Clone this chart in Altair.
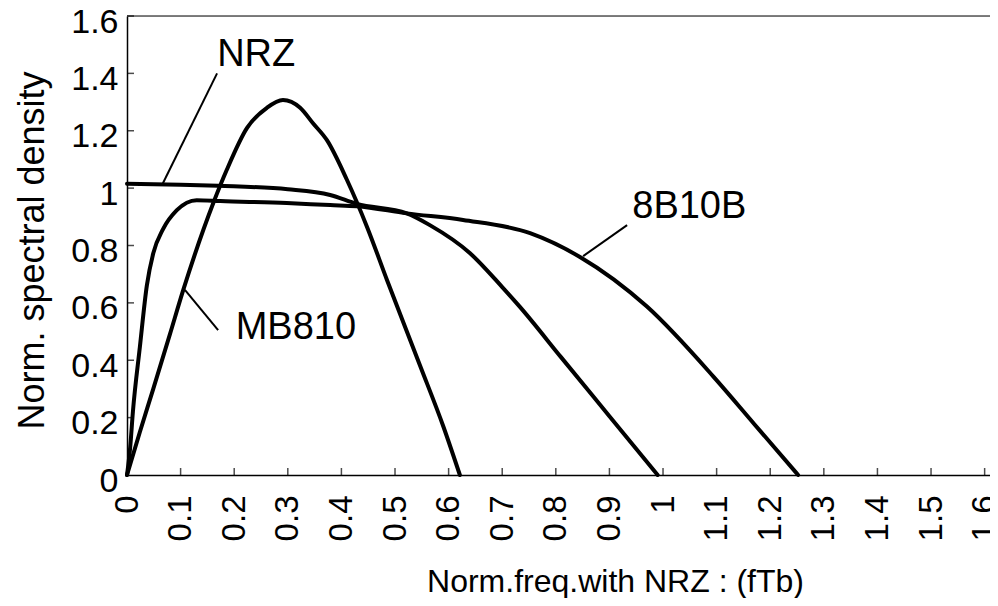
import altair as alt
import pandas as pd

# ---- data ----
nrz_f = [0, 0.10, 0.17, 0.30, 0.379, 0.429, 0.522, 0.565, 0.64, 0.70, 0.733, 0.81, 0.90, 0.99]
nrz_p = [1.015, 1.012, 1.008, 0.996, 0.976, 0.945, 0.912, 0.871, 0.773, 0.655, 0.586, 0.41, 0.205, 0.0]

b8_f = [0, 0.006, 0.011, 0.024, 0.037, 0.049, 0.067, 0.093, 0.13, 0.174, 0.298, 0.379, 0.429,
        0.522, 0.627, 0.752, 0.845, 0.97, 1.094, 1.17, 1.252]
b8_p = [0, 0.098, 0.22, 0.446, 0.66, 0.773, 0.856, 0.923, 0.958, 0.955, 0.948, 0.941, 0.937,
        0.912, 0.889, 0.843, 0.76, 0.587, 0.343, 0.178, 0.0]

mb_f = [0, 0.024, 0.049, 0.08, 0.105, 0.161, 0.186, 0.224, 0.261, 0.291, 0.323, 0.347, 0.373,
        0.41, 0.448, 0.485, 0.547, 0.59, 0.621]
mb_p = [0, 0.15, 0.30, 0.49, 0.645, 0.948, 1.063, 1.21, 1.28, 1.307, 1.28, 1.226, 1.167,
        1.03, 0.864, 0.68, 0.38, 0.17, 0.0]

label_names = ["NRZ", "MB810", "8B10B"]
label_f = [0.241, 0.315, 1.049]
label_p = [1.463, 0.514, 0.934]
leader_f1 = [0.168, 0.170, 0.933]
leader_p1 = [1.40, 0.505, 0.871]
leader_f2 = [0.067, 0.108, 0.851]
leader_p2 = [1.017, 0.645, 0.763]

x_ticks = [round(0.1 * i, 1) for i in range(0, 17)]
y_ticks = [round(0.2 * i, 1) for i in range(0, 9)]

FONT = "Liberation Sans"
W, H = 863, 459
XMAX = 1.61

curves = pd.concat([
    pd.DataFrame({"f": nrz_f, "p": nrz_p, "s": "NRZ"}),
    pd.DataFrame({"f": b8_f, "p": b8_p, "s": "8B10B"}),
    pd.DataFrame({"f": mb_f, "p": mb_p, "s": "MB810"}),
])
labels = pd.DataFrame({"name": label_names, "f": label_f, "p": label_p})
leaders = pd.DataFrame({"f1": leader_f1, "p1": leader_p1, "f2": leader_f2, "p2": leader_p2})
xt = pd.DataFrame({"f": [v for v in x_ticks if v > 0]})
yt = pd.DataFrame({"p": [v for v in y_ticks if v > 0]})

xscale = alt.Scale(domain=[0, XMAX], nice=False, zero=False)
yscale = alt.Scale(domain=[0, 1.6], nice=False)

xaxis = alt.Axis(
    values=x_ticks, format="~g", labelAngle=270, labelAlign="right", labelBaseline="middle",
    labelPadding=20, labelFontSize=33, labelFont=FONT, labelColor="#000", labelFlush=False,
    labelOverlap=False, ticks=False, tickSize=0, grid=False, domainColor="#000", domainWidth=1.5,
    title="Norm.freq.with NRZ : (fTb)", titleFont=FONT, titleFontSize=32, titleFontWeight="normal",
    titleColor="#000", titleX=488, titleY=116, titleBaseline="alphabetic", titleAnchor="start",
    titleAlign="center",
)
yaxis = alt.Axis(
    values=y_ticks, format="~g", labelPadding=9, labelFontSize=34, labelFont=FONT, labelColor="#000",
    labelFlush=False, labelOverlap=False, labelOffset=6, ticks=False, tickSize=0, grid=False,
    domainColor="#000", domainWidth=1.5,
    title="Norm. spectral density", titleFont=FONT, titleFontSize=36, titleFontWeight="normal",
    titleColor="#000", titleX=-84, titleY=234, titleBaseline="alphabetic", titleAngle=270,
    titleAlign="center", titleAnchor="start",
)

lines = alt.Chart(curves).mark_line(color="black", strokeWidth=4, interpolate="monotone",
                                    strokeJoin="round", strokeCap="round").encode(
    x=alt.X("f:Q", scale=xscale, axis=xaxis),
    y=alt.Y("p:Q", scale=yscale, axis=yaxis),
    detail="s:N",
)

xtick_marks = alt.Chart(xt).mark_tick(color="black", orient="vertical", size=7, thickness=1.5,
                                      yOffset=-3.5).encode(
    x=alt.X("f:Q", scale=xscale), y=alt.YDatum(0))
ytick_marks = alt.Chart(yt).mark_tick(color="black", orient="horizontal", size=7, thickness=1.5,
                                      xOffset=3.5).encode(
    y=alt.Y("p:Q", scale=yscale), x=alt.XDatum(0))

frame = alt.Chart(pd.DataFrame({"a": [0]})).mark_rule(color="#555", strokeWidth=1.5).encode(
    x=alt.value(0), x2=alt.value(W), y=alt.value(0))

leader_lines = alt.Chart(leaders).mark_rule(color="black", strokeWidth=2).encode(
    x="f1:Q", y="p1:Q", x2="f2:Q", y2="p2:Q")

texts = alt.Chart(labels).mark_text(font=FONT, fontSize=38, color="black", align="center",
                                    baseline="middle").encode(
    x="f:Q", y="p:Q", text="name:N")

chart = alt.layer(frame, lines, xtick_marks, ytick_marks, leader_lines, texts).properties(
    width=W, height=H,
    autosize=alt.AutoSizeParams(type="none"),
    padding={"left": 119, "top": 8, "right": 0, "bottom": 123},
).configure_view(stroke=None).configure(background="white")

chart.save("out.html", embed_options={"renderer": "svg", "actions": False})
